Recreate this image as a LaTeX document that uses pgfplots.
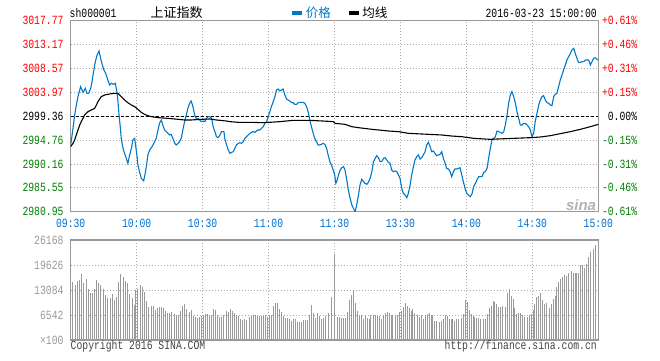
\documentclass[border=0pt]{standalone}
\usepackage{fontspec}
\setmainfont{Liberation Mono}[FakeStretch=0.78]
\newfontfamily\cjk{Noto Sans CJK SC}
\newfontfamily\sinafont{Liberation Sans}
\usepackage{pgfplots}
\pgfplotsset{compat=1.18}
\definecolor{sred}{HTML}{FF0000}
\definecolor{sgreen}{HTML}{008000}
\definecolor{pblue}{HTML}{0078C8}
\definecolor{tblue}{HTML}{0070D0}
\definecolor{framegray}{HTML}{999999}
\definecolor{gridgray}{HTML}{AAAAAA}
\definecolor{bargray}{HTML}{9A9A9A}
\definecolor{volgray}{HTML}{999999}
\definecolor{copygray}{HTML}{444444}
\newcommand{\tf}{\fontsize{12.5}{13}\selectfont}
\begin{document}
\begin{tikzpicture}
\path[use as bounding box] (0pt,0pt) rectangle (660pt,360pt);
% ---------- price panel, right-hand percentage labels ----------
\begin{axis}[
  at={(70.7pt,148.3pt)}, anchor=south west, scale only axis,
  width=527.6pt, height=191pt,
  xmin=0, xmax=240, ymin=2980.95, ymax=3017.77,
  axis x line=none, axis y line*=right,
  axis line style={draw=framegray, line width=1.2pt, -},
  major tick length=0pt, xtick=\empty,
  ytick={2980.95,2985.55,2990.16,2994.76,2999.36,3003.97,3008.57,3013.17,3017.77},
  yticklabels={\textcolor{sgreen}{-0.61\%},\textcolor{sgreen}{-0.46\%},\textcolor{sgreen}{-0.31\%},\textcolor{sgreen}{-0.15\%},0.00\%,\textcolor{sred}{+0.15\%},\textcolor{sred}{+0.31\%},\textcolor{sred}{+0.46\%},\textcolor{sred}{+0.61\%}},
  yticklabel style={anchor=east, inner sep=0pt, xshift=39pt, font=\tf},
]
\end{axis}
% ---------- price panel ----------
\begin{axis}[
  at={(70.7pt,148.3pt)}, anchor=south west, scale only axis,
  width=527.6pt, height=191pt,
  xmin=0, xmax=240, ymin=2980.95, ymax=3017.77,
  axis line style={draw=framegray, line width=1.2pt},
  major tick length=0pt,
  xtick={0,30,60,90,120,150,180,210,240},
  xticklabels={09:30,10:00,10:30,11:00,11:30,13:30,14:00,14:30,15:00},
  xticklabel style={anchor=center, inner sep=0pt, yshift=-11.5pt, font=\tf, text=tblue},
  ytick={2980.95,2985.55,2990.16,2994.76,2999.36,3003.97,3008.57,3013.17,3017.77},
  yticklabels={\textcolor{sgreen}{2980.95},\textcolor{sgreen}{2985.55},\textcolor{sgreen}{2990.16},\textcolor{sgreen}{2994.76},2999.36,\textcolor{sred}{3003.97},\textcolor{sred}{3008.57},\textcolor{sred}{3013.17},\textcolor{sred}{3017.77}},
  yticklabel style={anchor=east, inner sep=0pt, xshift=-7pt, font=\tf},
  grid=major,
  major grid style={draw=gridgray, line width=0.8pt, dash pattern=on 1pt off 2pt},
  legend style={at={(0.4161,1.0403)}, anchor=west, draw=none, fill=none,
    legend columns=2, inner sep=0pt, font=\cjk\fontsize{12.5}{13}\selectfont,
    nodes={inner sep=2pt},
    /tikz/every even column/.append style={column sep=14pt}},
  legend image code/.code={\draw[#1, line width=3.5pt] (0pt,0pt) -- (10pt,0pt);},
]
\addplot[forget plot, black, line width=0.9pt, dash pattern=on 3pt off 2pt] coordinates {(0,2999.36) (240,2999.36)};
\addplot[pblue, line width=1.1pt] coordinates {
(0,2993.81) (1.05,2997.02) (1.8,2999.59) (2.56,3001.52) (3.3,3003.13) (4.5,3005.05) (5.6,3003.96) (6.65,3004.73) (7.4,3003.77) (8.2,3003.77) (9.1,3004.73) (9.7,3006.02) (10.4,3007.94) (11.2,3009.87) (12.0,3011.16) (12.9,3011.93) (13.6,3010.52) (14.4,3009.23) (15.1,3008.27) (15.9,3007.62) (16.65,3006.66) (17.7,3005.37) (18.5,3005.70) (19.5,3005.50) (20.3,3005.70) (21.0,3004.09) (21.5,3002.16) (22.0,2999.59) (22.6,2997.02) (23.0,2995.09) (23.8,2993.17) (24.5,2992.20) (25.3,2991.24) (26.0,2990.27) (26.8,2991.88) (27.6,2993.17) (28.3,2994.77) (29.1,2995.09) (29.5,2993.81) (30.1,2991.88) (30.6,2989.95) (31.3,2988.67) (32.1,2987.38) (33.2,2986.93) (33.9,2988.35) (34.5,2989.95) (35.1,2991.88) (35.9,2992.84) (36.7,2993.29) (37.4,2993.81) (38.2,2994.45) (38.9,2995.09) (39.7,2996.70) (40.4,2997.98) (41.2,2998.63) (41.9,2997.66) (42.7,2996.70) (43.5,2996.38) (44.2,2996.06) (45.0,2995.74) (45.7,2995.87) (46.5,2995.09) (47.3,2994.13) (48.0,2993.81) (48.8,2994.13) (49.5,2994.45) (50.3,2995.09) (51.0,2996.70) (51.8,2998.31) (52.6,2999.59) (53.3,3000.88) (54.1,3001.84) (54.8,3002.29) (55.6,3001.20) (56.4,2999.59) (57.1,2998.95) (57.9,2998.95) (58.6,2998.63) (59.4,2998.31)
(60.3,2998.43) (61.0,2998.31) (61.8,2998.95) (62.6,2999.27) (63.3,2999.27) (64.1,2998.95) (64.8,2997.34) (65.6,2996.38) (66.3,2995.41) (67.1,2995.22) (67.9,2995.74) (68.6,2996.38) (69.7,2996.38) (70.1,2995.09) (70.9,2993.81) (71.7,2992.84) (72.4,2992.20) (73.2,2992.39) (73.9,2992.52) (74.7,2993.17) (75.4,2993.81) (76.2,2994.13) (77.0,2994.26) (77.7,2994.13) (78.5,2994.45) (79.2,2995.09) (80.0,2995.41) (80.7,2995.74) (81.5,2996.06) (82.3,2996.25) (83.0,2996.38) (83.8,2996.25) (84.5,2996.51) (85.3,2996.70) (86.0,2996.70) (86.8,2997.02) (87.6,2997.34) (88.3,2997.98) (89.1,2998.31) (89.8,2999.27) (90.6,3000.23) (91.3,3001.20) (92.1,3002.16) (92.9,3003.13) (93.6,3004.41) (94.4,3004.60) (95.1,3004.22) (95.9,3004.41) (96.6,3004.60) (97.4,3003.45) (98.2,3002.68) (98.9,3002.48) (99.7,3002.29) (100.4,3002.03) (101.2,3001.97) (101.95,3001.65) (102.7,3001.65) (103.5,3001.97) (104.2,3002.03) (105.0,3002.03) (105.7,3002.03) (106.5,3001.84) (107.3,3001.20) (108.0,3000.23) (108.8,2998.63) (109.5,2997.34) (110.3,2996.06) (111.0,2995.09) (111.8,2994.45) (112.6,2993.81) (113.3,2993.81) (114.1,2993.94) (114.8,2994.13) (115.6,2993.94) (116.4,2993.17) (117.1,2991.88) (117.9,2990.60) (118.6,2989.95) (119.4,2988.99) (120.1,2988.02)
(120.6,2986.42) (121.0,2986.74) (121.8,2988.02) (122.6,2988.99) (123.3,2989.44) (124.1,2989.63) (124.8,2988.99) (125.6,2987.06) (126.3,2985.13) (127.1,2983.53) (127.9,2982.24) (128.6,2981.60) (129.4,2980.96) (130.1,2982.24) (130.9,2984.17) (131.6,2986.10) (132.4,2987.19) (133.2,2986.74) (133.9,2986.42) (134.7,2986.23) (135.4,2986.61) (136.2,2987.38) (137.0,2988.67) (137.7,2990.60) (138.5,2991.24) (139.2,2991.75) (140.0,2991.37) (140.7,2990.60) (141.5,2990.60) (142.3,2991.24) (143.0,2991.37) (143.8,2990.92) (144.5,2990.47) (145.3,2990.27) (146.0,2988.99) (146.8,2988.67) (147.6,2988.80) (148.3,2988.67) (149.1,2988.02) (149.8,2987.38) (150.6,2985.45) (151.3,2984.49) (152.1,2984.17) (152.9,2983.66) (153.6,2984.49) (154.4,2986.10) (155.1,2988.02) (155.9,2989.63) (156.6,2990.92) (157.4,2991.56) (158.2,2991.88) (158.9,2991.11) (159.7,2991.37) (160.4,2991.88) (161.2,2992.52) (161.95,2993.81) (162.7,2994.32) (163.5,2993.49) (164.2,2992.52) (165.0,2992.65) (165.7,2992.20) (166.5,2991.75) (167.3,2991.88) (168.0,2992.01) (168.8,2992.52) (169.5,2991.24) (170.3,2990.27) (171.0,2989.31) (171.8,2989.18) (172.6,2988.67) (173.3,2987.70) (174.1,2988.67) (174.8,2989.18) (175.6,2989.18) (176.4,2989.31) (177.1,2989.44) (177.9,2988.02) (178.6,2986.74) (179.4,2985.45) (180.1,2984.49) (180.9,2984.17)
(181.8,2983.85) (182.6,2984.49) (183.3,2985.78) (184.1,2986.42) (184.8,2987.06) (185.6,2987.70) (186.3,2987.70) (187.1,2987.70) (187.9,2988.54) (188.6,2988.67) (189.4,2989.31) (190.1,2991.24) (190.9,2993.17) (191.6,2994.77) (192.4,2995.09) (193.2,2995.41) (193.9,2996.51) (194.7,2996.38) (195.4,2996.25) (196.2,2996.06) (197.0,2996.38) (197.7,2997.66) (198.5,2999.59) (199.2,3001.84) (200.0,3003.45) (200.7,3004.09) (201.5,3003.13) (202.3,3001.84) (203.0,3000.23) (203.8,2998.95) (204.5,2997.66) (205.3,2997.66) (206.0,2997.98) (206.8,2997.98) (207.6,2997.66) (208.3,2997.34) (209.1,2996.70) (209.8,2995.41) (210.6,2996.06) (211.3,2998.31) (212.1,2999.91) (212.9,3001.52) (213.6,3002.48) (214.4,3003.13) (215.1,3003.32) (215.9,3002.48) (216.6,3002.03) (217.4,3001.84) (218.2,3001.52) (218.9,3001.39) (219.7,3003.13) (220.4,3003.58) (221.2,3003.77) (221.95,3005.05) (222.7,3006.34) (223.5,3007.30) (224.2,3008.27) (225.0,3009.23) (225.7,3010.19) (226.5,3010.84) (227.3,3011.48) (228.0,3012.12) (228.8,3012.44) (229.5,3011.48) (230.3,3010.52) (231.0,3009.74) (231.8,3009.74) (232.6,3009.87) (233.3,3009.87) (234.1,3010.19) (234.8,3010.19) (235.6,3010.19) (236.4,3009.23) (237.1,3009.87) (237.9,3010.52) (238.6,3010.64) (239.4,3010.32) (240,3010.19)
};
\addlegendentry{\textcolor{pblue}{价格}}
\addplot[black, line width=1.1pt] coordinates {
(0,2993.49) (1.05,2994.13) (1.8,2994.77) (2.56,2995.74) (3.3,2996.70) (4.1,2997.66) (4.8,2998.31) (5.6,2998.95) (6.3,2999.59) (7.1,2999.91) (7.9,3000.23) (9.4,3000.55) (10.9,3000.88) (11.7,3001.52) (12.4,3002.16) (13.2,3002.68) (13.9,3003.13) (15.4,3003.45) (16.9,3003.58) (18.5,3003.70) (20.0,3003.77) (21.5,3003.77) (23.0,3003.13) (24.5,3002.48) (26.0,3001.97) (27.6,3001.52) (29.1,3001.20) (30.6,3000.68) (32.1,3000.10) (33.6,2999.72) (35.1,2999.46) (36.7,2999.27) (39.7,2999.08) (44.2,2998.95) (48.8,2998.76) (51.8,2998.63) (54.8,2998.63) (59.4,2998.76) (63.3,2998.82) (66.3,2998.63) (70.9,2998.43) (72.4,2998.31) (76.2,2998.18) (81.5,2998.18) (87.6,2998.11) (90.6,2998.18) (95.1,2998.31) (101.2,2998.56) (108.8,2998.56) (114.8,2998.43) (119.4,2998.31) (120.3,2997.98) (124.8,2997.79) (127.9,2997.34) (130.9,2997.15) (137.0,2996.83) (144.5,2996.51) (149.1,2996.38) (153.6,2996.06) (159.7,2995.93) (168.8,2995.74) (173.3,2995.54) (177.9,2995.41) (181.2,2995.22) (183.3,2995.09) (190.9,2994.90) (193.9,2994.96) (201.5,2995.09) (209.1,2995.22) (213.6,2995.35) (218.2,2995.61) (222.7,2995.99) (227.3,2996.38) (231.8,2996.83) (236.4,2997.34) (240,2997.79)
};
\addlegendentry{均线}
\end{axis}
% ---------- volume panel ----------
\begin{axis}[
  at={(70.7pt,20pt)}, anchor=south west, scale only axis,
  width=527.6pt, height=100pt,
  xmin=0, xmax=240, ymin=0, ymax=26168,
  scaled y ticks=false,
  axis line style={draw=framegray, line width=1.2pt},
  major tick length=0pt,
  xtick={0,30,60,90,120,150,180,210,240}, xticklabel=\empty,
  ytick={0,6542,13084,19626,26168},
  yticklabels={×100,6542,13084,19626,26168},
  yticklabel style={anchor=east, inner sep=0pt, xshift=-7pt, font=\tf, text=volgray},
  grid=major,
  major grid style={draw=gridgray, line width=0.8pt, dash pattern=on 1pt off 2pt},
]
\addplot[ycomb, draw=bargray, line width=1pt] coordinates {
(1.0,15176) (2.1,14391) (3.0,15438) (3.9,15700) (4.8,17183) (5.9,14827) (7.0,15874) (7.9,13432) (8.8,12385) (9.7,12210) (10.9,13257) (11.8,15700) (12.7,14827) (13.6,14304) (14.7,13257) (15.7,11687) (16.9,10989) (17.9,10989) (18.8,11949) (19.7,10466) (20.7,11251) (21.8,15176) (22.7,17183) (23.8,16485) (24.8,15438) (25.7,14827) (26.9,12036) (27.9,11077) (28.8,9158) (29.7,13083) (30.6,13257) (31.7,14304) (32.7,13955) (33.6,12559) (34.7,10205) (35.6,8635) (36.7,8896) (37.6,8896) (38.5,7849) (39.4,8460) (40.4,8721) (41.5,8721) (42.4,8460) (43.3,7587) (44.2,6977) (45.1,7151) (46.0,7326) (47.0,6715) (48.2,6454) (49.1,6454) (50.0,7500) (50.9,8809) (51.8,9332) (52.9,8023) (53.9,7326) (54.8,7849) (55.9,6279) (56.9,5930) (57.9,5843) (58.8,5930) (59.7,6279) (60.6,6628) (61.5,6715) (62.4,6890) (63.3,6628) (64.2,6628) (65.1,8198) (66.0,7849) (66.9,6454) (67.9,5930) (68.8,6017) (69.7,6454) (70.7,7500) (71.6,7326) (72.6,8198) (73.6,7675) (74.5,6977) (75.4,6628) (76.3,6279) (77.3,5407) (78.2,5145) (79.1,5407) (80.1,5232) (81.2,6104) (82.1,6454) (83.0,6454) (83.9,6454) (84.8,6454) (85.9,6279) (86.8,6279) (87.7,6628) (88.6,6454) (89.5,6104) (90.4,6454) (91.3,6628) (92.4,8896) (93.3,9594) (94.2,9594) (95.1,8198) (96.0,7326) (96.9,6279) (97.9,5843) (98.8,5756) (99.7,5407) (100.6,4971) (101.5,5407) (102.4,5407) (103.3,4709) (104.2,4709) (105.1,4709) (106.0,5232) (106.9,5232) (107.9,5232) (108.8,6628) (109.7,9070) (110.6,6977) (111.5,5843) (112.4,7151) (113.3,6279) (114.3,5581) (115.2,5756) (116.1,6279) (117.3,7151) (118.5,11251) (120.0,22417)
(121.2,6018) (122.1,6018) (123.0,5669) (123.9,5669) (124.8,5669) (125.7,7326) (126.6,10466) (127.6,11687) (128.5,13083) (129.4,9768) (130.3,7500) (131.2,6454) (132.1,6454) (133.0,5407) (133.9,6279) (134.8,5669) (135.7,5581) (136.6,6454) (137.6,6628) (138.5,6454) (139.4,6279) (140.3,6279) (141.2,5407) (142.1,6454) (143.0,7151) (143.9,7413) (144.8,6977) (145.7,6454) (146.6,6454) (147.6,6279) (148.5,6454) (149.4,7326) (150.3,7587) (151.2,8635) (152.1,9594) (153.0,8896) (153.9,8460) (154.8,7500) (155.7,8023) (156.6,6977) (157.6,6454) (158.5,6104) (159.4,6454) (160.3,5581) (161.2,6454) (162.1,6715) (163.0,6977) (163.9,6454) (164.8,6454) (165.7,4971) (166.6,4971) (167.6,4709) (168.5,4971) (169.4,5581) (170.3,6454) (171.2,6279) (172.1,5581) (173.0,5407) (173.9,5407) (174.8,4971) (175.7,5407) (176.6,5581) (177.6,5843) (178.5,6715) (179.4,10466) (180.3,9943) (181.2,7849) (182.1,6803) (183.0,6279) (183.9,6018) (184.8,5843) (185.7,5669) (186.6,5407) (187.6,5407) (188.5,5581) (189.4,6715) (190.3,8460) (191.2,8896) (192.1,10205) (193.0,9943) (193.9,9507) (194.8,8721) (195.7,8547) (196.6,8896) (197.6,8721) (198.5,12210) (199.4,13432) (200.3,11513) (201.2,10815) (202.1,8460) (203.0,6715) (203.9,6977) (204.8,6977) (205.7,6454) (206.6,6104) (207.6,6104) (208.5,6628) (209.4,6890) (210.3,7849) (211.2,9332) (212.1,11251) (213.0,11513) (213.9,12385) (214.8,10466) (215.7,9507) (216.6,9768) (217.6,8460) (218.5,9332) (219.4,10641) (220.3,11513) (221.2,13955) (222.1,15176) (223.0,15874) (223.9,16572) (224.8,16921) (225.7,16746) (226.6,17619) (227.6,18055) (228.5,17444) (229.4,17619) (230.3,17619) (231.2,17444) (232.1,19538) (233.0,19538) (233.9,18927) (234.8,19800) (235.7,21806) (236.6,23027) (237.6,23899) (238.5,24772)
};
\end{axis}
% ---------- header and footer texts ----------
\node[anchor=west, inner sep=0pt] at (69.5pt,347pt) {\tf sh000001};
\node[anchor=west, inner sep=0pt] at (150.5pt,347pt) {\cjk\fontsize{13}{14}\selectfont 上证指数};
\node[anchor=east, inner sep=0pt] at (597pt,347pt) {\tf 2016-03-23 15:00:00};
\node[anchor=west, inner sep=0pt, text=copygray] at (70.5pt,14pt) {\tf Copyright 2016 SINA.COM};
\node[anchor=east, inner sep=0pt, text=copygray] at (597pt,14pt) {\tf http://finance.sina.com.cn};
\node[anchor=center, inner sep=0pt, text=black!30] at (581pt,155pt) {\sinafont\bfseries\itshape\fontsize{15}{16}\selectfont sina};
\end{tikzpicture}
\end{document}
